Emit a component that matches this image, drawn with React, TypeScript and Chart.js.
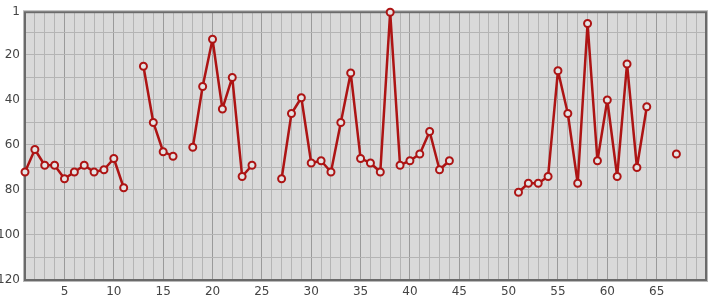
import React, { useEffect, useRef } from "react";
import { Chart, registerables } from "chart.js";

Chart.register(...registerables);

// Rank per round (null = no entry). Round number = index + 1
const rounds: number[] = Array.from({ length: 67 }, (_, i) => i + 1);
const ranks: (number | null)[] = [
  72, 62, 69, 69, 75, 72, 69, 72, 71, 66, // 1-10
  79, null, 25, 50, 63, 65, null, 61, 34, 13, // 11-20
  44, 30, 74, 69, null, null, 75, 46, 39, 68, // 21-30
  67, 72, 50, 28, 66, 68, 72, 1, 69, 67, // 31-40
  64, 54, 71, 67, null, null, null, null, null, null, // 41-50
  81, 77, 77, 74, 27, 46, 77, 6, 67, 40, // 51-60
  74, 24, 70, 43, null, null, 64, // 61-67
];
const yTickValues = [1, 10, 20, 30, 40, 50, 60, 70, 80, 90, 100, 110, 120];
const yLabelValues = [1, 20, 40, 60, 80, 100, 120];

const frame = {
  id: "frame",
  beforeDraw(chart: any) {
    const { ctx, chartArea: a } = chart;
    ctx.save();
    ctx.fillStyle = "#d9d9d9";
    ctx.fillRect(a.left, a.top, a.right - a.left, a.bottom - a.top);
    ctx.restore();
  },
  beforeDatasetsDraw(chart: any) {
    const { ctx, chartArea: a } = chart;
    ctx.save();
    ctx.strokeStyle = "#b8b8b8";
    ctx.lineWidth = 1;
    ctx.strokeRect(a.left - 1.5, a.top - 1.5, a.right - a.left + 3, a.bottom - a.top + 3);
    ctx.strokeStyle = "#6a6a6a";
    ctx.lineWidth = 2;
    ctx.strokeRect(a.left, a.top, a.right - a.left, a.bottom - a.top);
    ctx.restore();
  },
};

export default function App() {
  const ref = useRef<HTMLCanvasElement>(null);
  useEffect(() => {
    document.body.style.margin = "0";
    const chart = new Chart(ref.current!, {
      type: "line",
      data: {
        datasets: [
          {
            data: ranks.map((v, i) => ({ x: rounds[i], y: v })) as any,
            borderColor: "#ad1414",
            borderWidth: 2.5,
            borderJoinStyle: "round",
            pointRadius: 3.5,
            pointBorderWidth: 2,
            pointBorderColor: "#ad1414",
            pointBackgroundColor: "#e4e4e4",
            spanGaps: false,
            clip: false as any,
            tension: 0,
          },
        ],
      },
      plugins: [frame],
      options: {
        animation: false,
        responsive: false,
        maintainAspectRatio: false,
        layout: { padding: { top: 10, right: 9, left: 0, bottom: 0 } },
        plugins: { legend: { display: false }, tooltip: { enabled: false } },
        scales: {
          x: {
            type: "linear",
            min: 1,
            max: 70,
            afterBuildTicks: (s: any) => {
              const t = [];
              for (let v = 1; v <= 70; v++) t.push({ value: v });
              s.ticks = t;
            },
            afterFit: (s: any) => {
              s.height = 20;
            },
            ticks: {
              autoSkip: false,
              maxRotation: 0,
              padding: 5,
              color: "#444",
              font: { family: "DejaVu Sans", size: 12 },
              callback: (v: any) => (v % 5 === 0 && v !== 70 ? String(v) : ""),
            },
            grid: {
              color: (c: any) => (c.tick && c.tick.value % 5 === 0 ? "#9a9a9a" : "#b4b4b4"),
              lineWidth: 1,
              drawTicks: false,
            },
            border: { display: false },
          },
          y: {
            type: "linear",
            reverse: true,
            min: 1,
            max: 120,
            afterBuildTicks: (s: any) => {
              s.ticks = yTickValues.map((v) => ({ value: v }));
            },
            afterFit: (s: any) => {
              s.width = 25;
            },
            ticks: {
              autoSkip: false,
              padding: 5,
              color: "#444",
              font: { family: "DejaVu Sans", size: 12 },
              callback: (v: any) => (yLabelValues.includes(v) ? String(v) : ""),
            },
            grid: {
              color: "#b4b4b4",
              lineWidth: 1,
              drawTicks: false,
            },
            border: { display: false },
          },
        },
      },
    });
    return () => chart.destroy();
  }, []);
  return (
    <div style={{ width: 715, height: 300, background: "#fff" }}>
      <canvas ref={ref} width={715} height={300} style={{ display: "block" }} />
    </div>
  );
}
